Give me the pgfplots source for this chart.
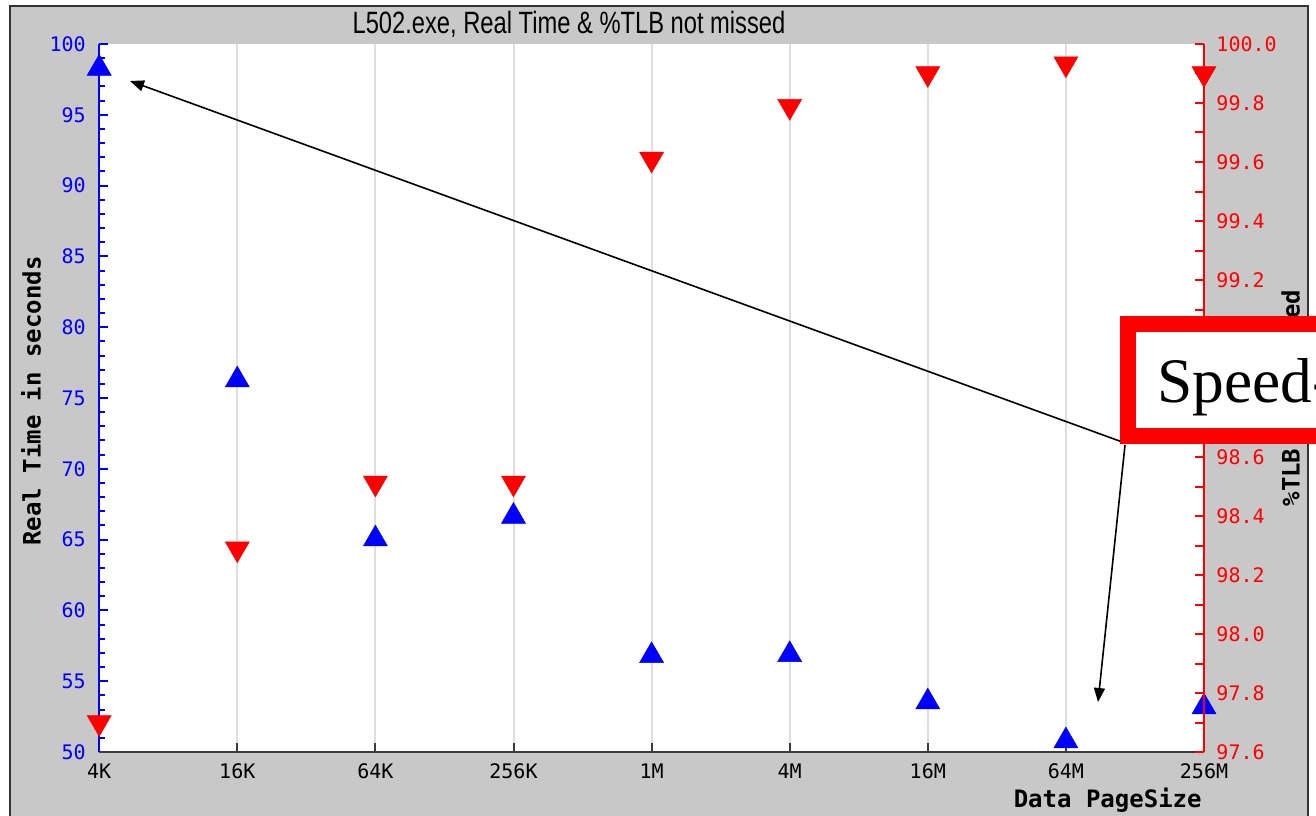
\documentclass[border=0pt]{standalone}
\usepackage{pgfplots}
\pgfplotsset{compat=1.18}
\usetikzlibrary{arrows.meta}
\usepackage{fontspec}
\setmainfont{Liberation Sans}
\newfontfamily\monof{DejaVu Sans Mono}
\newfontfamily\titlef[FakeStretch=0.77]{Liberation Sans}
\newfontfamily\seriff{Liberation Serif}
\definecolor{bg}{RGB}{200,200,200}
\definecolor{gridc}{RGB}{222,222,222}
\definecolor{axisc}{RGB}{60,60,60}
\begin{document}
\begin{tikzpicture}[x=0.5pt,y=0.5pt]
\useasboundingbox (0,0) rectangle (1316,815);
\clip (0,0) rectangle (1316,815);
\fill[white] (0,0) rectangle (1316,815);
\filldraw[fill=bg,draw=black!80,line width=1pt] (10,-20) rectangle (1308,809);
\fill[white] (99,63) rectangle (1204,771);
% left axis: Real Time
\begin{axis}[
  at={(49.6pt,31.5pt)}, anchor=south west,
  scale only axis, width=552.4pt, height=354pt,
  xmin=0, xmax=8, ymin=50, ymax=100,
  axis y line*=left, axis x line*=bottom,
  xtick={0,...,8},
  xticklabels={4K,16K,64K,256K,1M,4M,16M,64M,256M},
  ytick={50,55,60,65,70,75,80,85,90,95,100},
  yticklabels={50,55,60,65,70,75,80,85,90,95,100},
  minor y tick num=4,
  tick align=inside,
  major tick length=4.5pt, minor tick length=3pt,
  xmajorgrids, grid style={gridc, line width=1pt},
  x axis line style={axisc, line width=1pt},
  y axis line style={blue, line width=1pt},
  xtick style={axisc, line width=1pt},
  ytick style={blue, line width=1pt},
  minor y tick style={blue, line width=1pt},
  xticklabel style={font=\monof\fontsize{10}{12}\selectfont, text=black, yshift=-2.5pt},
  yticklabel style={font=\monof\fontsize{10}{12}\selectfont, text=blue, xshift=-3.2pt},
  clip=false,
]
\addplot[only marks, mark=triangle*, mark size=6.9pt,
  mark options={fill=blue, draw=blue, line width=0.3pt}]
  coordinates {(0,98.28) (1,76.27) (2,65.04) (3,66.64) (4,56.80) (5,56.87) (6,53.53) (7,50.78) (8,53.18)};
\end{axis}
% right axis: %TLB not missed
\begin{axis}[
  at={(49.6pt,31.5pt)}, anchor=south west,
  scale only axis, width=552.4pt, height=354pt,
  xmin=0, xmax=8, ymin=97.6, ymax=100,
  axis y line*=right, axis x line=none,
  ytick={97.6,97.8,98.0,98.2,98.4,98.6,98.8,99.0,99.2,99.4,99.6,99.8,100.0},
  yticklabels={97.6,97.8,98.0,98.2,98.4,98.6,98.8,99.0,99.2,99.4,99.6,99.8,100.0},
  minor y tick num=1,
  tick align=inside,
  major tick length=4.5pt, minor tick length=4.5pt,
  y axis line style={red, line width=1pt},
  ytick style={red, line width=1pt},
  minor y tick style={red, line width=1pt},
  yticklabel style={font=\monof\fontsize{10}{12}\selectfont, text=red, xshift=2.7pt},
  clip=false,
]
\addplot[only marks, mark=triangle*, mark size=6.9pt,
  mark options={rotate=180, fill=red, draw=red, line width=0.3pt}]
  coordinates {(0,97.70) (1,98.289) (2,98.512) (3,98.512) (4,99.61) (5,99.789) (6,99.90) (7,99.933) (8,99.90)};
\end{axis}
% titles and labels
\node at (569,{815-24}) {\titlef\fontsize{15.4}{18}\selectfont L502.exe, Real Time \& \%TLB not missed};
\node[rotate=90, inner sep=0] at (31,{815-401}) {\monof\bfseries\fontsize{12}{14}\selectfont Real Time in seconds};
\node[anchor=east, inner sep=0] at (1202,{815-800}) {\monof\bfseries\fontsize{12}{14}\selectfont Data PageSize};
\node[rotate=90, inner sep=0] at (1290,{815-398}) {\monof\bfseries\fontsize{12}{14}\selectfont \%TLB not missed};
% annotation arrows and box
\draw[-{Triangle[length=7pt,width=5.5pt]}, line width=0.8pt] (1125,{815-443}) -- (130,{815-81});
\draw[-{Triangle[length=7pt,width=5.5pt]}, line width=0.8pt] (1125,{815-445}) -- (1098,{815-702});
\filldraw[draw=red, fill=white, line width=8pt] (1128,{815-324}) rectangle (1360,{815-435.5});
\node[anchor=base west, inner sep=0] at (1157,{815-402}) {\seriff\fontsize{31.7}{36}\selectfont Speed-up};
\end{tikzpicture}
\end{document}
